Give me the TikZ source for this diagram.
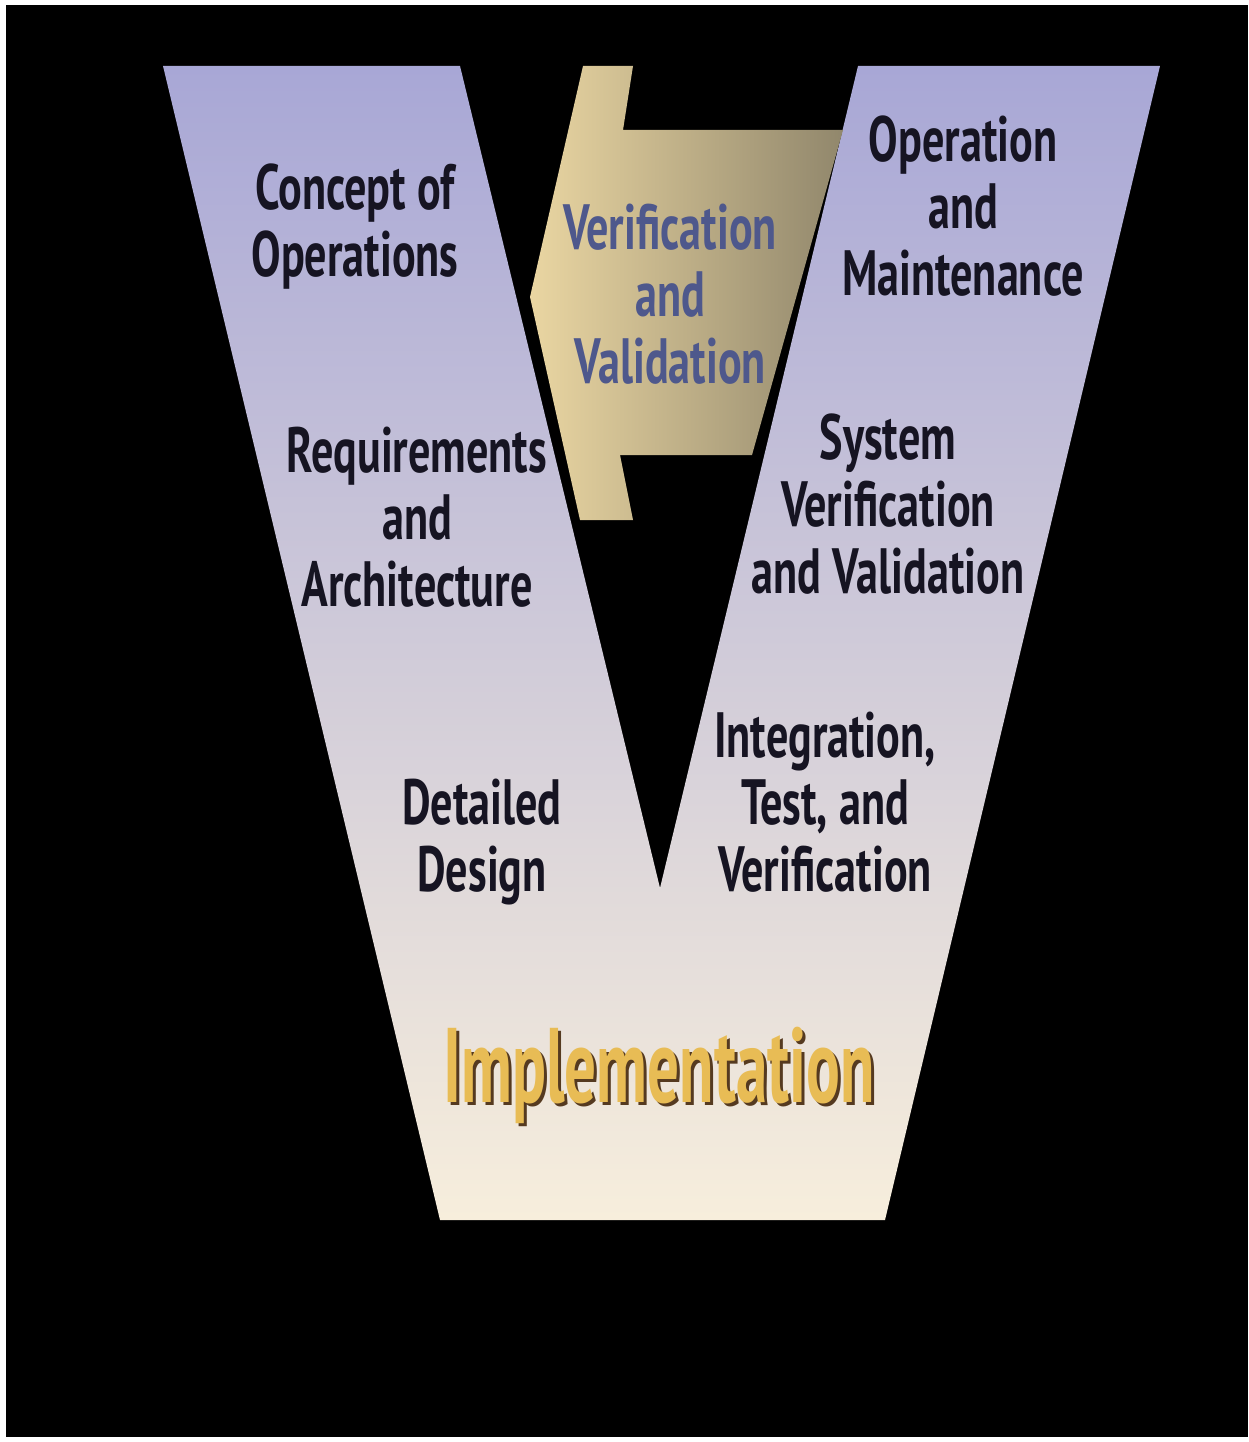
\documentclass[tikz,border=0pt]{standalone}
\usepackage{fontspec}
\newfontfamily\vfont[FakeStretch=0.69]{PT Sans}
\newfontfamily\implfont[FakeStretch=0.595]{PT Sans}
\definecolor{vtop}{RGB}{168,167,214}
\definecolor{vmid}{RGB}{208,203,224}
\definecolor{vbot}{RGB}{247,238,220}
\definecolor{arrL}{RGB}{234,214,162}
\definecolor{arrR}{RGB}{145,135,108}
\definecolor{lbl}{RGB}{22,20,34}
\definecolor{vvblue}{RGB}{78,88,140}
\definecolor{implgold}{RGB}{232,188,85}
\definecolor{implshadow}{RGB}{85,58,32}
\tikzset{
  lab/.style={font=\vfont\bfseries\fontsize{64}{67}\selectfont, text=lbl, align=center, inner sep=0pt},
  vvlab/.style={lab, text=vvblue},
  impl/.style={font=\implfont\bfseries\fontsize{106}{110}\selectfont, inner sep=0pt},
}
\begin{document}
\begin{tikzpicture}[x=1pt,y=-1pt]
\useasboundingbox (0,0) rectangle (1248,1442);
\fill[white] (0,0) rectangle (1248,1442);
\fill[black] (6,5) rectangle (1248,1437);
% V shape
\shade[top color=vtop, middle color=vmid, bottom color=vbot]
  (163,66) -- (460,66) -- (660,888) -- (858,66) -- (1160,66) -- (885,1220) -- (440,1220) -- cycle;
% arrow
\def\arrowpath{(583,66) -- (633,66) -- (623,130) -- (843,130) -- (752,455) -- (620,455) -- (633,520) -- (580,520) -- (530,297) -- cycle}
\shade[left color=arrL, right color=arrR] \arrowpath;
\begin{scope}
  \clip \arrowpath;
  \node[vvlab] (vv) at (670,294) {Verification\\and\\Validation};
\end{scope}
% left labels
\node[lab] (conops) at (355,227) {Concept of\\Operations};
\node[lab] (req) at (417,517) {Requirements\\and\\Architecture};
\node[lab] (dd) at (482,842) {Detailed\\Design};
% right labels
\node[lab] (om) at (963,206) {Operation\\and\\Maintenance};
\node[lab] (svv) at (888,504) {System\\Verification\\and Validation};
\node[lab] (itv) at (825,802) {Integration,\\Test, and\\Verification};
% implementation (gold text with a dark drop shadow)
\node[impl] (impl) at (659,1077) {\makebox[0pt][l]{\hspace{3pt}\raisebox{-3pt}{\color{implshadow}Implementation}}\color{implgold}Implementation};
\end{tikzpicture}
\end{document}
